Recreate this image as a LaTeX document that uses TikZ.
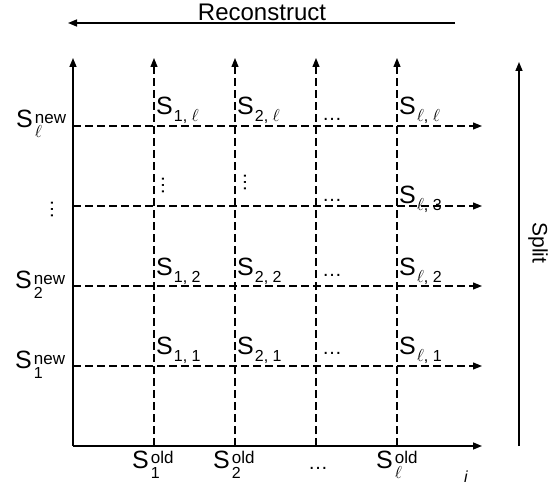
\documentclass[tikz,border=0pt]{standalone}
\usepackage{fontspec}
\setmainfont{Liberation Sans}
\usetikzlibrary{arrows.meta}
\newcommand{\subf}{\fontsize{16}{16}\selectfont}
\newcommand{\supf}{\fontsize{17}{17}\selectfont}
\newcommand{\bigf}{\fontsize{25}{25}\selectfont}
\newcommand{\Scell}[1]{S\kern1pt\raisebox{-7pt}{\subf #1}}
\newcommand{\Snew}[1]{S\kern2pt\rlap{\raisebox{-10pt}{\subf #1}}\raisebox{4pt}{\supf new}}
\newcommand{\Sold}[1]{S\kern2pt\rlap{\raisebox{-10pt}{\subf #1}}\raisebox{5pt}{\supf old}}
\newcommand{\hdts}{{\fontsize{20}{20}\selectfont …}}
\begin{document}
\begin{tikzpicture}[x=1pt,y=-1pt,
  tip/.style={-{Triangle[length=9pt,width=7pt]}},
  ax/.style={line width=1.5pt,tip},
  dsh/.style={line width=1.2pt,dash pattern=on 8pt off 4pt,tip},
  lbl/.style={inner sep=0pt,anchor=base west,font=\bigf},
  dts/.style={inner sep=0pt,anchor=base west},
  vd/.style={inner sep=0pt,anchor=center,rotate=90}]
\useasboundingbox (0,0) rectangle (549,484);
% frame coordinates
\coordinate (O) at (73,446);
\coordinate (Ot) at (73,58);
\coordinate (Or) at (482,446);
\foreach \n/\x in {1/154,2/235,3/316,4/397}{
  \coordinate (c\n b) at (\x,446);
  \coordinate (c\n t) at (\x,58);
}
\foreach \n/\y in {1/366,2/286,3/206,4/126}{
  \coordinate (r\n l) at (73,\y);
  \coordinate (r\n r) at (482,\y);
}
% grid
\foreach \n in {1,2,3,4}{
  \draw[dsh] (c\n b) -- (c\n t);
  \draw[dsh] (r\n l) -- (r\n r);
}
\draw[ax] (O) -- (Ot);
\draw[ax] (O) -- (Or);
% reconstruct and split arrows
\coordinate (Ra) at (455,23);
\coordinate (Rb) at (68,23);
\draw[ax] (Ra) -- (Rb);
\node[inner sep=0pt,anchor=base,font=\fontsize{24}{24}\selectfont] (rec) at (262,21) {Reconstruct};
\coordinate (Sa) at (519,446);
\coordinate (Sb) at (519,62);
\draw[ax] (Sa) -- (Sb);
\node[inner sep=0pt,rotate=-90,font=\fontsize{21}{21}\selectfont] (split) at (538,243) {Split};
% new labels
\node[lbl] (n4) at (16,128) {\Snew{$\ell$}};
\node[vd] (nv) at (52,209) {\hdts};
\node[lbl] (n2) at (15,288) {\Snew{2}};
\node[lbl] (n1) at (15,368) {\Snew{1}};
% old labels
\node[lbl] (o1) at (132,468) {\Sold{1}};
\node[lbl] (o2) at (213,468) {\Sold{2}};
\node[dts] (od) at (308,469) {\hdts};
\node[lbl] (o4) at (376,468) {\Sold{$\ell$}};
\node[inner sep=0pt,anchor=base,font=\fontsize{16}{16}\selectfont\itshape] (ii) at (466,482) {i};
% cell labels
\node[lbl] (s1l) at (156,115) {\Scell{1, $\ell$}};
\node[lbl] (s2l) at (237,115) {\Scell{2, $\ell$}};
\node[dts] (dl) at (322,121) {\hdts};
\node[lbl] (sll) at (399,115) {\Scell{$\ell$, $\ell$}};
\node[vd] (v1) at (163,186) {\hdts};
\node[vd] (v2) at (245,183) {\hdts};
\node[dts] (d3) at (322,201) {\hdts};
\node[lbl] (sl3) at (399,203) {\Scell{$\ell$, 3}};
\node[lbl] (s12) at (156,275) {\Scell{1, 2}};
\node[lbl] (s22) at (237,275) {\Scell{2, 2}};
\node[dts] (d2) at (322,276) {\hdts};
\node[lbl] (sl2) at (399,275) {\Scell{$\ell$, 2}};
\node[lbl] (s11) at (156,354) {\Scell{1, 1}};
\node[lbl] (s21) at (237,354) {\Scell{2, 1}};
\node[dts] (d1) at (322,354) {\hdts};
\node[lbl] (sl1) at (399,354) {\Scell{$\ell$, 1}};
\end{tikzpicture}
\end{document}
